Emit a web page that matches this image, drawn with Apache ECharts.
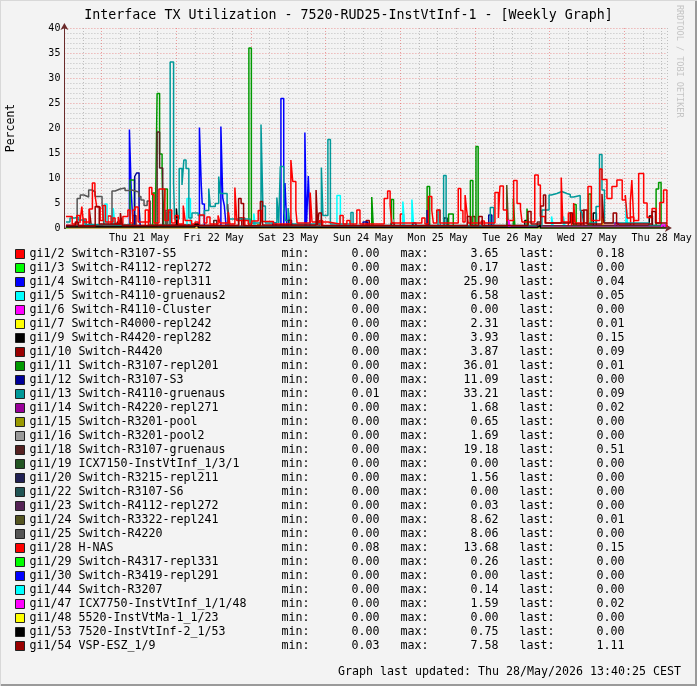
<!DOCTYPE html>
<html>
<head>
<meta charset="utf-8">
<script src="https://cdn.jsdelivr.net/npm/echarts@6/dist/echarts.min.js"></script>
<style>
  html, body { margin: 0; padding: 0; background: #f3f3f3; }
  #chart { width: 697px; height: 686px; }
</style>
</head>
<body>
<div id="chart"></div>
<script>
  // x values are hours since Thu 21 May 00:00, y values are percent
  const dayLabels = ['Thu 21 May', 'Fri 22 May', 'Sat 23 May', 'Sun 24 May', 'Mon 25 May', 'Tue 26 May', 'Wed 27 May', 'Thu 28 May'];

  const ports = [
    'gi1/2 Switch-R3107-S5', 'gi1/3 Switch-R4112-repl272', 'gi1/4 Switch-R4110-repl311', 'gi1/5 Switch-R4110-gruenaus2',
    'gi1/6 Switch-R4110-Cluster', 'gi1/7 Switch-R4000-repl242', 'gi1/9 Switch-R4420-repl282', 'gi1/10 Switch-R4420',
    'gi1/11 Switch-R3107-repl201', 'gi1/12 Switch-R3107-S3', 'gi1/13 Switch-R4110-gruenaus', 'gi1/14 Switch-R4220-repl271',
    'gi1/15 Switch-R3201-pool', 'gi1/16 Switch-R3201-pool2', 'gi1/18 Switch-R3107-gruenaus', 'gi1/19 ICX7150-InstVtInf_1/3/1',
    'gi1/20 Switch-R3215-repl211', 'gi1/22 Switch-R3107-S6', 'gi1/23 Switch-R4112-repl272', 'gi1/24 Switch-R3322-repl241',
    'gi1/25 Switch-R4220', 'gi1/28 H-NAS', 'gi1/29 Switch-R4317-repl331', 'gi1/30 Switch-R3419-repl291',
    'gi1/44 Switch-R3207', 'gi1/47 ICX7750-InstVtInf_1/1/48', 'gi1/48 5520-InstVtMa-1_1/23', 'gi1/53 7520-InstVtInf-2_1/53',
    'gi1/54 VSP-ESZ_1/9'
  ];
  const mins = ['0.00','0.00','0.00','0.00','0.00','0.00','0.00','0.00','0.00','0.00','0.01','0.00','0.00','0.00','0.00',
    '0.00','0.00','0.00','0.00','0.00','0.00','0.08','0.00','0.00','0.00','0.00','0.00','0.00','0.03'];
  const maxs = ['3.65','0.17','25.90','6.58','0.00','2.31','3.93','3.87','36.01','11.09','33.21','1.68','0.65','1.69','19.18',
    '0.00','1.56','0.00','0.03','8.62','8.06','13.68','0.26','0.00','0.14','1.59','0.00','0.75','7.58'];
  const lasts = ['0.18','0.00','0.04','0.05','0.00','0.01','0.15','0.09','0.01','0.00','0.09','0.02','0.00','0.00','0.51',
    '0.00','0.00','0.00','0.00','0.01','0.00','0.15','0.00','0.00','0.00','0.02','0.00','0.00','1.11'];

  const palette = ['#FF0000', '#00FF00', '#0000FF', '#00FFFF', '#FF00FF', '#FFFF00', '#000000', '#990000',
    '#009900', '#000099', '#009999', '#990099', '#999900', '#999999', '#552222', '#225522',
    '#222255', '#225555', '#552255', '#555522', '#555555', '#FF0000', '#00FF00', '#0000FF',
    '#00FFFF', '#FF00FF', '#FFFF00', '#000000', '#990000'];

  // [hour, percent] pairs, value held until the next pair (step)
  const gi1_2 = [[-11.5,0.5],[-6,1.8],[-5,0.4],[2,2.4],[3,0.5],[14,3.6],[15,0.6],[30,1.2],[31,0.3],[45,2.0],[46,0.4],
    [70,1.5],[71,0.3],[96,2.8],[97,0.4],[122,1.4],[123,0.4],[150,3.0],[151,0.5],[170,2.2],[171,0.3],[181.67,0.18]];
  const gi1_3 = [[-11.5,0],[40,0.17],[41,0],[181.67,0]];
  const gi1_4 = [[-11.5,0.1],[8.9,19.7],[9.5,7.0],[10.1,0.2],[31.4,20.1],[32.0,8.5],[32.3,4.8],[33.0,0.2],[38.3,20.3],
    [38.9,6.0],[39.4,4.5],[40.0,0.2],[57.6,25.9],[58.5,0.2],[58.9,9.0],[59.5,0.2],[65.3,19.1],[65.8,0.2],[66.4,10.4],
    [67.0,0.2],[120,0.3],[121,0.1],[181.67,0.04]];
  const gi1_5 = [[-11.5,0],[1.0,4.8],[1.7,0.2],[3.7,4.0],[4.3,0.1],[27.4,5.9],[28.5,0.2],[48.9,2.9],[49.4,0.1],[75.6,6.5],
    [76.7,0.2],[96.8,5.3],[97.4,0.1],[99.7,5.7],[100.3,0.1],[144.6,2.3],[145.2,0.1],[148.4,2.3],[149.0,0.1],[168.5,5.1],
    [169.1,0.1],[181.67,0.05]];
  const gi1_6 = [[-11.5,0],[181.67,0]];
  const gi1_7 = [[-11.5,0],[160.8,2.3],[161.2,0],[181.67,0.01]];
  const gi1_9 = [[-11.5,0.3],[5,1.2],[6,0.2],[24,3.9],[24.5,0.3],[60,1.0],[61,0.2],[110,2.0],[111,0.3],[136,1.5],
    [137,0.2],[158,3.0],[159,0.4],[176,2.4],[177,0.3],[181.67,0.15]];
  const gi1_10 = [[-11.5,0.5],[-4,3.8],[-3.4,0.6],[10,2.5],[11,0.4],[21,3.2],[22,0.5],[44,2.0],[45,0.3],[85,1.5],
    [86,0.3],[119,2.3],[120,0.4],[154,3.5],[155,0.5],[181.67,0.09]];
  const gi1_11 = [[-11.5,0],[9.1,9.6],[10.5,0.2],[16.4,7.0],[17.2,0.2],[17.8,26.9],[18.6,14.8],[19.4,11.0],[19.8,0.2],
    [20.3,7.8],[21.1,0.2],[47.3,36.0],[48.1,0.2],[86.8,6.2],[87.3,0.2],[93.1,5.7],[93.8,0.2],[104.6,8.3],[105.4,0.2],
    [111.5,2.8],[113,0.2],[118.5,9.5],[119.3,0.2],[120.3,16.3],[121.0,0.2],[132.3,5.9],[132.8,0.2],[136.7,3.9],
    [137.2,0.2],[151.7,4.7],[152.5,0.2],[156.5,6.8],[157.3,0.2],[178.2,7.8],[179.0,9.1],[179.8,0.2],[181.67,0.01]];
  const gi1_12 = [[-11.5,0.2],[10.6,10.3],[11.2,11.0],[12.0,4.0],[12.4,0.2],[55,1.0],[56,0.2],[84,1.2],[85.5,0.3],
    [104.6,3.6],[105.2,0.3],[124.4,2.6],[125.4,0.3],[181.67,0]];
  const gi1_13 = [[-11.5,1.2],[-10.2,2.0],[-8.6,2.2],[-7.6,1.6],[-5.4,0.7],[-3,0.3],[22.0,33.2],[23.1,8.9],[23.4,1.8],
    [24.9,11.9],[25.8,8.6],[26.4,13.6],[27.1,11.9],[28.0,2.0],[29.0,3.0],[31,2.5],[33,3.5],[34.4,7.9],[34.9,4.3],
    [36.5,4.9],[37.6,10.3],[38.1,6.9],[40.3,4.0],[40.9,1.8],[47.7,1.0],[51.2,20.7],[51.8,4.4],[52.6,1.0],[56.3,6.1],
    [56.9,1.0],[57.4,12.3],[58.5,3.9],[59.0,1.5],[59.9,4.0],[60.5,0.8],[70.6,12.1],[71.1,2.5],[72.7,17.7],[73.5,0.8],
    [80.1,3.1],[80.8,0.5],[108.1,3.6],[108.8,0.5],[109.9,10.5],[110.7,0.5],[124.9,4.1],[126.0,0.5],[141.5,3.6],
    [143.8,6.6],[144.5,6.9],[146.3,7.3],[147.9,6.9],[149.5,6.7],[150.6,6.2],[151.7,6.5],[153.8,3.6],[154.4,3.0],
    [154.9,1.0],[158.9,4.3],[160.0,14.7],[160.8,7.6],[161.6,1.0],[176,0.5],[181.67,0.09]];
  const gi1_14 = [[-11.5,0],[130.5,1.7],[131,0.1],[165,1.0],[166,0],[181.67,0.02]];
  const gi1_15 = [[-11.5,0],[50,0.65],[51,0],[181.67,0]];
  const gi1_16 = [[-11.5,0],[93.8,1.7],[94.3,0],[181.67,0]];
  const gi1_18 = [[-11.5,0.3],[17.8,19.2],[18.6,12.0],[19.6,0.5],[36,1.5],[37,0.3],[93,1.0],[94,0.3],[140,1.2],
    [141,0.3],[181.67,0.51]];
  const gi1_19 = [[-11.5,0],[181.67,0]];
  const gi1_20 = [[-11.5,0],[60,1.56],[61,0.2],[100,1.0],[101,0],[181.67,0]];
  const gi1_22 = [[-11.5,0],[181.67,0]];
  const gi1_23 = [[-11.5,0],[181.67,0]];
  const gi1_24 = [[-11.5,0],[130.2,8.6],[130.7,0.1],[181.67,0.01]];
  const gi1_25 = [[-11.5,0.3],[-7.9,5.9],[-6.9,6.6],[-5.7,6.2],[-4.2,7.6],[-3.1,7.2],[-2.1,6.3],[0.1,5.0],[0.7,0.5],
    [3.3,7.4],[4.3,7.8],[5.9,8.0],[7.5,7.5],[8.8,7.6],[9.7,7.2],[11.9,6.3],[12.6,5.6],[13.6,4.5],[14.6,5.4],[15.6,0.5],
    [20.5,3.5],[21.2,0.3],[40.5,4.8],[41,0.3],[181.67,0]];
  const gi1_28 = [[-11.5,2.3],[-9.5,0.8],[-8.0,2.5],[-7.0,1.0],[-6.4,4.3],[-5.9,1.2],[-4.0,3.8],[-3.0,9.0],[-2.2,6.7],
    [-1.6,4.2],[-0.5,1.5],[0.4,4.5],[1.2,1.2],[3.6,2.0],[4.3,0.8],[5.3,2.2],[5.9,0.8],[6.8,2.3],[8.4,3.6],[9.1,1.0],
    [10.0,3.6],[10.7,4.2],[11.7,1.2],[15.3,8.1],[16.1,6.7],[16.8,1.0],[18.4,7.8],[20.3,1.5],[21.4,3.6],[22.5,1.0],
    [23.6,2.5],[24.6,0.8],[26.2,4.5],[26.8,1.5],[28.9,0.8],[31.4,2.6],[32.9,1.0],[33.8,2.2],[34.8,0.8],[37.4,2.5],
    [38.0,1.0],[40.7,3.2],[41.2,0.8],[42.8,8.1],[43.4,1.5],[47.1,0.8],[48.2,1.4],[50.3,3.5],[51.4,1.3],[55.2,0.8],
    [60.8,13.6],[61.4,9.3],[62.4,3.6],[62.8,1.0],[67.0,7.1],[67.6,1.2],[72.8,0.8],[76.6,2.5],[77.6,0.8],[78.8,1.5],
    [79.8,0.8],[82.0,3.6],[83.0,0.8],[90.8,5.9],[91.9,7.4],[92.7,4.5],[93.2,1.0],[102.9,2.0],[103.9,0.8],[105.0,6.3],
    [106.1,3.5],[106.6,1.0],[107.7,3.6],[108.7,1.0],[114.6,7.9],[115.4,3.5],[116.1,1.2],[116.8,6.6],[117.3,3.6],
    [117.8,1.0],[126.4,7.1],[127.5,2.0],[128.0,8.4],[129.1,3.6],[130.2,1.5],[132.4,9.5],[133.5,4.9],[134.6,3.8],
    [135.1,1.2],[139.2,10.6],[140.3,8.6],[141.0,2.3],[142.5,1.0],[147.7,10.1],[148.2,1.2],[151.7,5.0],[152.2,1.0],
    [156.3,8.3],[157.4,1.5],[160.1,11.8],[160.8,9.7],[162.4,5.9],[164.0,8.3],[165.6,9.6],[167.3,5.6],[168.3,6.6],
    [168.9,2.0],[169.9,5.1],[170.4,9.6],[171.0,1.5],[172.6,10.9],[174.2,5.0],[175.3,2.1],[176.9,3.9],[178.2,1.0],
    [179.4,5.1],[180.6,7.6],[181.67,0.15]];
  const gi1_29 = [[-11.5,0],[150,0.26],[150.5,0],[181.67,0]];
  const gi1_30 = [[-11.5,0],[181.67,0]];
  const gi1_44 = [[-11.5,0],[90,0.14],[90.5,0],[181.67,0]];
  const gi1_47 = [[-11.5,0.5],[-10.5,0],[130.8,1.6],[131.3,0.1],[180,0.6],[181,0.02],[181.67,0.02]];
  const gi1_48 = [[-11.5,0],[181.67,0]];
  const gi1_53 = [[-11.5,0.2],[30,0.75],[31,0.1],[140,0.5],[141,0],[181.67,0]];
  const gi1_54 = [[-11.5,0.5],[-8.5,1.2],[-7.5,0.4],[-2.1,4.3],[-0.8,0.8],[6,3.0],[6.6,0.5],[44.0,5.9],[44.8,4.9],
    [45.6,0.5],[51.0,5.3],[51.7,0.6],[68.9,7.6],[69.4,0.6],[69.8,3.0],[70.6,0.5],[117.5,2.3],[118.5,0.5],[121.2,2.3],
    [122.3,0.5],[137,3.3],[138,0.8],[141.1,4.4],[142.0,6.6],[142.7,1.0],[150.6,3.0],[151.4,0.8],[154.9,3.6],[156,0.8],
    [160.8,6.8],[161.4,1.0],[164.4,3.0],[165.5,0.8],[176.9,3.3],[178,1.0],[181.67,1.11]];

  const seriesPoints = [gi1_2, gi1_3, gi1_4, gi1_5, gi1_6, gi1_7, gi1_9, gi1_10, gi1_11, gi1_12, gi1_13, gi1_14,
    gi1_15, gi1_16, gi1_18, gi1_19, gi1_20, gi1_22, gi1_23, gi1_24, gi1_25, gi1_28, gi1_29, gi1_30, gi1_44,
    gi1_47, gi1_48, gi1_53, gi1_54];

  const mono = 'DejaVu Sans Mono';
  const minorGrid = 'rgba(140,140,140,0.5)';
  const majorGrid = 'rgba(230,70,70,0.5)';

  // monospaced legend row: name, then min / max / last columns
  function legendRow(name) {
    const i = ports.indexOf(name);
    return name.padEnd(36) + 'min:' + mins[i].padStart(10) + '   max:' + maxs[i].padStart(10) +
      '   last:' + lasts[i].padStart(10);
  }

  const chart = echarts.init(document.getElementById('chart'));

  chart.setOption({
    animation: false,
    backgroundColor: '#f3f3f3',
    title: {
      text: 'Interface TX Utilization - 7520-RUD25-InstVtInf-1 - [Weekly Graph]',
      left: 'center',
      top: 9,
      padding: 0,
      textStyle: { fontFamily: mono, fontSize: 13.3, fontWeight: 'normal', color: '#000' },
    },
    grid: { left: 64.4, right: 30.1, top: 28, bottom: 458, outerBoundsMode: 'none', containLabel: false },
    xAxis: {
      type: 'value',
      min: -12,
      max: 181.67,
      interval: 6,
      axisLine: {
        onZero: false,
        lineStyle: { color: '#6a2a2a', width: 1 },
        symbol: ['none', 'arrow'],
        symbolSize: [6, 7],
        symbolOffset: [0, 5],
      },
      axisTick: { show: false },
      axisLabel: {
        fontFamily: mono, fontSize: 10, color: '#000', margin: 5,
        formatter: (v) => (v % 24 === 12 ? dayLabels[(v - 12) / 24] : ''),
      },
      splitLine: {
        show: true,
        lineStyle: { type: [1, 2], width: 1, color: [minorGrid, minorGrid, majorGrid, minorGrid] },
      },
    },
    yAxis: {
      type: 'value',
      min: 0,
      max: 40,
      interval: 1,
      name: 'Percent',
      nameLocation: 'middle',
      nameRotate: 90,
      nameGap: 47,
      nameTextStyle: { fontFamily: mono, fontSize: 11.5, color: '#000' },
      axisLine: {
        show: true,
        onZero: false,
        lineStyle: { color: '#6a2a2a', width: 1 },
        symbol: ['none', 'arrow'],
        symbolSize: [6, 7],
        symbolOffset: [0, 5],
      },
      axisTick: { show: false },
      axisLabel: {
        fontFamily: mono, fontSize: 10, color: '#000', margin: 4,
        formatter: (v) => (v % 5 === 0 ? String(v) : ''),
      },
      splitLine: {
        show: true,
        lineStyle: { type: [1, 2], width: 1, color: [majorGrid, minorGrid, minorGrid, minorGrid, minorGrid] },
      },
    },
    legend: {
      orient: 'vertical',
      left: 15,
      top: 247,
      padding: 0,
      itemWidth: 9,
      itemHeight: 9,
      itemGap: 0,
      icon: 'rect',
      selectedMode: false,
      itemStyle: { borderColor: '#222', borderWidth: 1 },
      data: ports,
      textStyle: { fontFamily: mono, fontSize: 11.63, color: '#000', lineHeight: 14 },
      formatter: legendRow,
    },
    graphic: [
      {
        type: 'text', right: 16, top: 666,
        style: { text: 'Graph last updated: Thu 28/May/2026 13:40:25 CEST', font: '11.63px "DejaVu Sans Mono"', fill: '#000' },
      },
      {
        type: 'text', x: 684, y: 5, rotation: -Math.PI / 2,
        style: { text: 'RRDTOOL / TOBI OETIKER', font: '8.5px "DejaVu Sans Mono"', fill: '#c4c4c4' },
      },
      { type: 'line', shape: { x1: 0, y1: 685, x2: 697, y2: 685 }, style: { stroke: '#9a9a9a', lineWidth: 2 } },
      { type: 'line', shape: { x1: 696, y1: 0, x2: 696, y2: 686 }, style: { stroke: '#9a9a9a', lineWidth: 2 } },
      { type: 'line', shape: { x1: 0, y1: 0.5, x2: 697, y2: 0.5 }, style: { stroke: '#d8d8d8', lineWidth: 1 } },
      { type: 'line', shape: { x1: 0.5, y1: 0, x2: 0.5, y2: 686 }, style: { stroke: '#d8d8d8', lineWidth: 1 } },
    ],
    series: seriesPoints.map((pts, i) => ({
      name: ports[i],
      type: 'line',
      step: 'end',
      symbol: 'none',
      silent: true,
      data: pts,
      lineStyle: { color: palette[i], width: 1.5 },
      itemStyle: { color: palette[i] },
    })),
  });
</script>
</body>
</html>
